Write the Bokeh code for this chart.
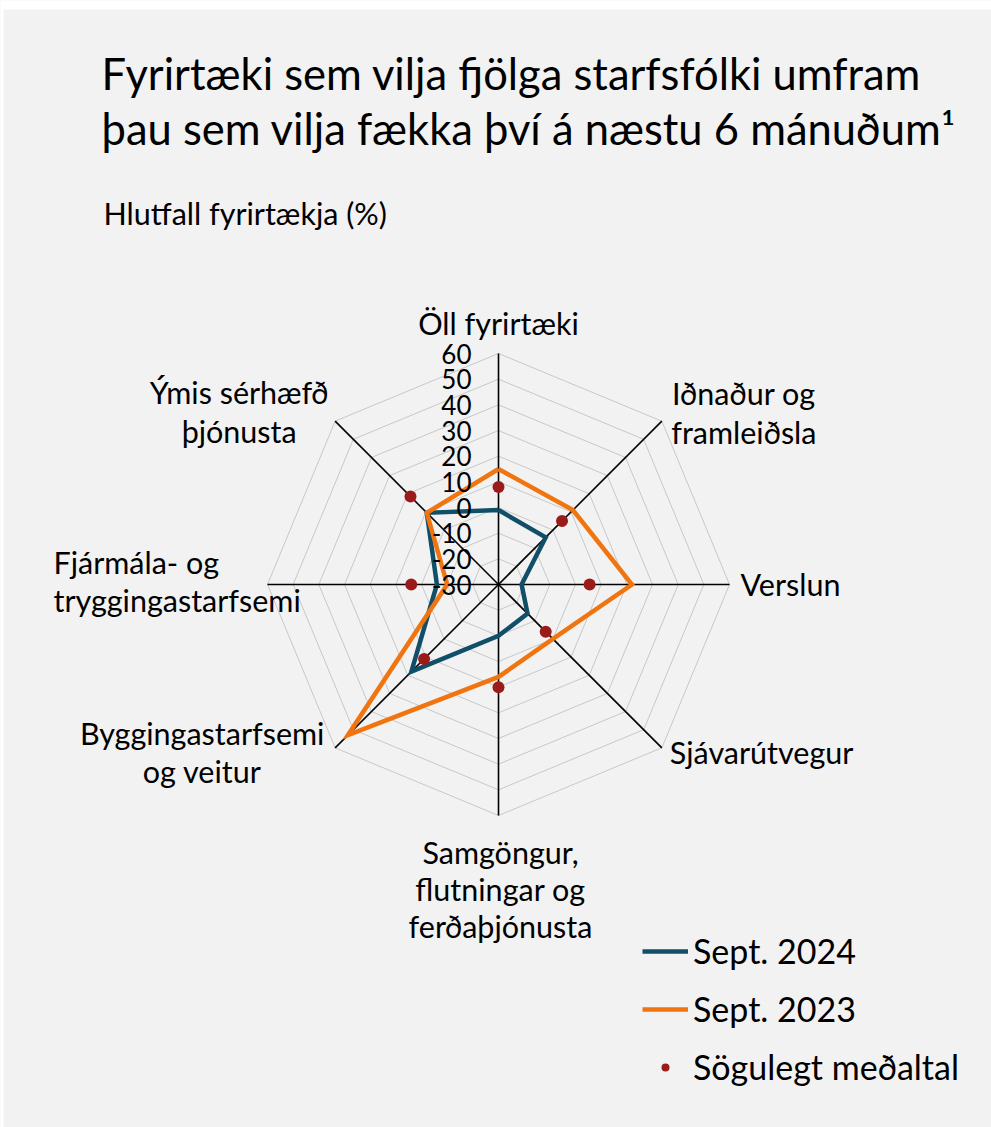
import math
from bokeh.plotting import figure
from bokeh.models import Range1d, Legend, LegendItem, BoxAnnotation
from bokeh.core.properties import value
from bokeh.embed import file_html
from bokeh.resources import INLINE

# ---------------- data ----------------
categories = [
    "Öll fyrirtæki",
    "Iðnaður og\nframleiðsla",
    "Verslun",
    "Sjávarútvegur",
    "Samgöngur,\nflutningar og\nferðaþjónusta",
    "Byggingastarfsemi\nog veitur",
    "Fjármála- og\ntryggingastarfsemi",
    "Ýmis sérhæfð\nþjónusta",
]
sept_2024 = [-1, -4, -21, -14, -10, 18, -6, 9.5]
sept_2023 = [15, 11, 22, 0, 6, 53, -10, 9.5]
historical_avg = [8, 5, 5.5, -4, 10, 11, 4, 18.5]
tick_values = [60, 50, 40, 30, 20, 10, 0, -10, -20, -30]
series_names = ["Sept. 2024", "Sept. 2023", "Sögulegt meðaltal"]
title_lines = ["Fyrirtæki sem vilja fjölga starfsfólki umfram",
               "þau sem vilja fækka því á næstu 6 mánuðum¹"]
subtitle = "Hlutfall fyrirtækja (%)"

# ---------------- layout / style ----------------
R_MIN, R_MAX = -30, 60
W, H = 991, 1127
CX, CY = 498, 584          # page px of radar centre
K = 231 / (R_MAX - R_MIN)  # px per unit
FONT = value("Lato")
BG = "#f2f2f2"
BLUE, ORANGE, RED = "#114e68", "#f07510", "#9b1b1b"

# label anchor offsets (px) from axis end: dx, dy of first baseline, align, line step
label_style = [
    (0, -31, "center", 39),
    (82, -28, "center", 39),
    (11, -1, "left", 39),
    (8, 4, "left", 39),
    (2, 36, "center", 37),
    (-133, -15, "center", 38),
    (-214, -23, "left", 38),
    (-96, -29, "center", 39),
]


def pd(x, y):
    """page px -> data coords"""
    return (x - CX) / K, (CY - y) / K


n = len(categories)
angles = [math.pi / 2 - i * 2 * math.pi / n for i in range(n)]


def polar(vals):
    xs = [(v - R_MIN) * math.cos(a) for v, a in zip(vals, angles)]
    ys = [(v - R_MIN) * math.sin(a) for v, a in zip(vals, angles)]
    return xs, ys


p = figure(width=W, height=H, output_backend="svg", toolbar_location=None,
           x_axis_type=None, y_axis_type=None, min_border=0,
           x_range=Range1d((0 - CX) / K, (W - CX) / K),
           y_range=Range1d((CY - H) / K, CY / K),
           background_fill_color=BG, border_fill_color=BG)
p.grid.visible = False
p.outline_line_color = None

# thin white page strips (top / left) as in the reference
p.add_layout(BoxAnnotation(bottom=(CY - 9) / K, fill_color="white",
                           fill_alpha=1, line_color=None, level="underlay"))
p.add_layout(BoxAnnotation(right=(3 - CX) / K, fill_color="white",
                           fill_alpha=1, line_color=None, level="underlay"))

# grid rings
for t in tick_values:
    if t == R_MIN:
        continue
    xs, ys = polar([t] * n)
    p.line(xs + xs[:1], ys + ys[:1], line_color="#c8c8c8", line_width=1)

# spokes
for a in angles:
    span = R_MAX - R_MIN
    p.line([0, span * math.cos(a)], [0, span * math.sin(a)],
           line_color="black", line_width=1.6)

# series
x24, y24 = polar(sept_2024)
x23, y23 = polar(sept_2023)
xh, yh = polar(historical_avg)
r24 = p.line(x24 + x24[:1], y24 + y24[:1], line_color=BLUE, line_width=4.5,
             line_join="miter")
r23 = p.line(x23 + x23[:1], y23 + y23[:1], line_color=ORANGE, line_width=4.5,
             line_join="miter")
rh = p.scatter(xh, yh, size=12, fill_color=RED, line_color=None)

# tick labels
tx, _ = pd(471, 0)
p.text([tx] * len(tick_values), [t - R_MIN for t in tick_values],
       text=[str(t) for t in tick_values], text_align="right",
       text_baseline="middle", text_font=FONT, text_font_size="26px",
       text_color="black")

# category labels
for i, (cat, a) in enumerate(zip(categories, angles)):
    ex = (R_MAX - R_MIN) * math.cos(a)
    ey = (R_MAX - R_MIN) * math.sin(a)
    dx, dy, align, step = label_style[i]
    lines = cat.split("\n")
    xs = [ex + dx / K] * len(lines)
    ys = [ey - (dy + j * step) / K for j in range(len(lines))]
    p.text(xs, ys, text=lines, text_align=align, text_baseline="alphabetic",
           text_font=FONT, text_font_size="30.5px", text_color="black")

# title & subtitle
t1 = pd(101, 72)
t2 = pd(101, 127)
p.text([t1[0], t2[0]], [t1[1], t2[1]], text=title_lines, text_align="left",
       text_baseline="alphabetic", text_font=FONT, text_font_size="43.5px",
       text_color="black")
s = pd(103, 212)
p.text([s[0]], [s[1]], text=[subtitle], text_align="left",
       text_baseline="alphabetic", text_font=FONT, text_font_size="30.5px",
       text_color="black")

# legend
legend = Legend(items=[LegendItem(label=series_names[0], renderers=[r24]),
                       LegendItem(label=series_names[1], renderers=[r23]),
                       LegendItem(label=series_names[2], renderers=[rh])],
                location=(642, 40), orientation="vertical",
                glyph_width=46, glyph_height=20, label_height=20,
                label_standoff=5, spacing=17, padding=0, margin=0,
                border_line_color=None, background_fill_alpha=0,
                label_text_font="Lato", label_text_font_size="34px",
                label_text_color="black")
p.add_layout(legend, "center")

open("out.html", "w").write(file_html(p, INLINE))
